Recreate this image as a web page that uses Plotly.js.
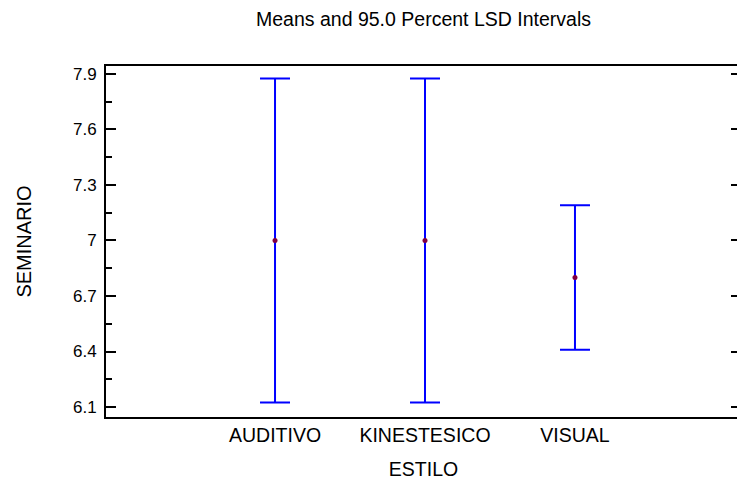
<!DOCTYPE html>
<html>
<head>
<meta charset="utf-8">
<script src="https://cdn.plot.ly/plotly-3.0.1.min.js"></script>
<style>
html, body { margin: 0; padding: 0; overflow: hidden; background: #fff; }
#chart { width: 760px; height: 480px; }
</style>
</head>
<body>
<div id="chart"></div>
<script>
// Data
const categories = ["AUDITIVO", "KINESTESICO", "VISUAL"];
const means = [7.0, 7.0, 6.8];
const halfWidths = [0.875, 0.875, 0.39];
const yTickVals = [6.1, 6.4, 6.7, 7.0, 7.3, 7.6, 7.9];
const yTickText = ["6.1", "6.4", "6.7", "7", "7.3", "7.6", "7.9"];

const FONT = "Liberation Sans, Arial, sans-serif";

const traces = [
  {
    type: "scatter",
    mode: "markers",
    x: categories,
    y: means,
    marker: { color: "#800040", size: 5 },
    error_y: {
      type: "data",
      array: halfWidths,
      visible: true,
      color: "#0000FF",
      thickness: 2,
      width: 15
    },
    hoverinfo: "skip",
    showlegend: false
  },
  {
    type: "scatter",
    mode: "markers",
    x: categories,
    y: means,
    yaxis: "y2",
    marker: { opacity: 0 },
    hoverinfo: "skip",
    showlegend: false
  }
];

const yRange = [6.046, 7.943];

const layout = {
  width: 760,
  height: 480,
  margin: { l: 106, r: 19, t: 66, b: 63 },
  paper_bgcolor: "#ffffff",
  plot_bgcolor: "#ffffff",
  font: { family: FONT, color: "#000000", size: 19 },
  title: {
    text: "Means and 95.0 Percent LSD Intervals",
    font: { family: FONT, size: 19.5, color: "#000" },
    x: 0.5,
    xref: "paper",
    y: 1 - 19 / 480,
    yref: "container",
    yanchor: "middle"
  },
  xaxis: {
    type: "category",
    range: [-1.127, 3.107],
    showgrid: false,
    zeroline: false,
    showline: true,
    linecolor: "#000",
    linewidth: 2,
    mirror: true,
    ticks: "",
    tickfont: { family: FONT, size: 19.5, color: "#000" },
    title: { text: "ESTILO", font: { family: FONT, size: 19.5, color: "#000" }, standoff: 18 },
    fixedrange: true
  },
  yaxis: {
    range: yRange,
    tickvals: yTickVals,
    ticktext: yTickText,
    showgrid: false,
    zeroline: false,
    showline: true,
    linecolor: "#000",
    linewidth: 2,
    ticks: "inside",
    ticklen: 10,
    tickwidth: 2,
    tickcolor: "#000",
    ticklabelstandoff: 4,
    minor: { dtick: 0.15, tick0: 6.1, ticks: "inside", ticklen: 6, tickwidth: 2, tickcolor: "#000", showgrid: false },
    tickfont: { family: FONT, size: 17, color: "#000" },
    title: { text: "SEMINARIO", font: { family: FONT, size: 20, color: "#000" }, standoff: 36 },
    fixedrange: true
  },
  yaxis2: {
    overlaying: "y",
    side: "right",
    range: yRange,
    tickvals: yTickVals,
    showticklabels: false,
    showgrid: false,
    zeroline: false,
    showline: true,
    linecolor: "#000",
    linewidth: 2,
    ticks: "inside",
    ticklen: 10,
    tickwidth: 2,
    tickcolor: "#000",
    fixedrange: true
  }
};

Plotly.newPlot("chart", traces, layout, { displayModeBar: false, staticPlot: true });
</script>
</body>
</html>
